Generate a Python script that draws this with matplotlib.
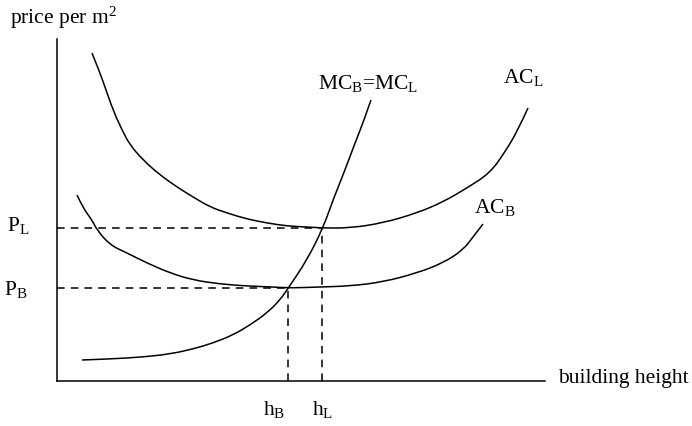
import numpy as np
import matplotlib.pyplot as plt
from matplotlib.path import Path
from matplotlib.patches import PathPatch

plt.rcParams['font.family'] = ['Liberation Serif', 'DejaVu Serif']
plt.rcParams['mathtext.fontset'] = 'custom'
plt.rcParams['mathtext.rm'] = 'Liberation Serif'
plt.rcParams['mathtext.it'] = 'Liberation Serif:italic'

# curves (x = building height, y = price), origin at axis corner
acl_x = [35, 43, 48, 56, 65, 73, 86, 103, 120, 136, 153, 170, 190, 210, 230, 250, 266,
         293, 326, 360, 386, 410, 433, 448, 461, 471]
acl_y = [328, 308, 294, 271, 251, 236, 221, 206, 194, 184, 174, 168, 162, 158, 155, 154, 153,
         153, 158, 168, 179, 193, 208, 229, 251, 273]

acb_x = [20, 26, 35, 40, 53, 70, 90, 113, 136, 163, 190, 216, 233, 263, 293, 326, 360, 386,
         406, 416, 426]
acb_y = [186, 173, 161, 151, 136, 128, 118, 108, 101, 97, 95, 94, 93, 94, 95, 99, 108, 118,
         131, 144, 157]

mc_x = [25, 53, 86, 113, 136, 156, 176, 193, 210, 223, 232, 250, 266, 276, 288, 298, 306, 314]
mc_y = [21, 22, 24, 27, 32, 38, 46, 56, 68, 81, 94, 121, 153, 181, 211, 238, 258, 281]

p_b, p_l = 93, 153
h_b, h_l = 231, 265


def smooth_path(xs, ys):
    # quadratic bezier through midpoints, read points act as control points
    pts = list(zip(xs, ys))
    verts = [pts[0]]
    codes = [Path.MOVETO]
    for i in range(1, len(pts) - 1):
        mid = ((pts[i][0] + pts[i + 1][0]) / 2, (pts[i][1] + pts[i + 1][1]) / 2)
        if i == len(pts) - 2:
            mid = pts[-1]
        verts += [pts[i], mid]
        codes += [Path.CURVE3, Path.CURVE3]
    return Path(verts, codes)


x0, y0 = 57, 381
fig = plt.figure(figsize=(6.92, 4.26), dpi=100)
ax = fig.add_axes([0, 0, 1, 1])
ax.set_xlim(-x0, 692 - x0)
ax.set_ylim(y0 - 426, y0)
ax.axis('off')

lw = 1.1
ax.plot([0, 0], [0, y0 - 39], color='black', lw=lw)
ax.plot([0, 545 - x0], [0, 0], color='black', lw=lw)

for xs, ys in [(acl_x, acl_y), (acb_x, acb_y), (mc_x, mc_y)]:
    ax.add_patch(PathPatch(smooth_path(xs, ys), facecolor='none', edgecolor='black', lw=lw))

dash = dict(color='black', lw=lw, linestyle=(0, (5, 4)))
ax.plot([0, h_l], [p_l, p_l], **dash)
ax.plot([h_l, h_l], [0, p_l], **dash)
ax.plot([0, h_b], [p_b, p_b], **dash)
ax.plot([h_b, h_b], [0, p_b], **dash)

fs = 15.5
ax.text(10 - x0, y0 - 18, r'price per m$^2$', fontsize=fs, va='center', ha='left')
ax.text(7 - x0, y0 - 225, r'P$_\mathrm{L}$', fontsize=fs, va='center', ha='left')
ax.text(4 - x0, y0 - 290, r'P$_\mathrm{B}$', fontsize=fs, va='center', ha='left')
ax.text(h_b - 14, y0 - 410, r'h$_\mathrm{B}$', fontsize=fs, va='center', ha='center')
ax.text(h_l + 1, y0 - 410, r'h$_\mathrm{L}$', fontsize=fs, va='center', ha='center')
ax.text(558 - x0, y0 - 378, 'building height', fontsize=fs, va='center', ha='left')
ax.text(318 - x0, y0 - 84, r'MC$_\mathrm{B}$=MC$_\mathrm{L}$', fontsize=fs, va='center', ha='left')
ax.text(503 - x0, y0 - 77, r'AC$_\mathrm{L}$', fontsize=fs, va='center', ha='left')
ax.text(474 - x0, y0 - 208, r'AC$_\mathrm{B}$', fontsize=fs, va='center', ha='left')

fig.savefig('out.png', dpi=100)
